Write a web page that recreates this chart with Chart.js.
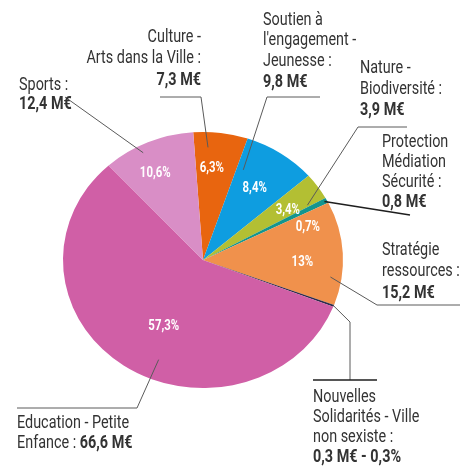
<!DOCTYPE html>
<html>
<head>
<meta charset="utf-8">
<script src="https://cdn.jsdelivr.net/npm/chart.js@4.4.1/dist/chart.umd.min.js"></script>
<style>
html,body{margin:0;padding:0;background:#fff;}
#wrap{position:relative;width:471px;height:466px;}
canvas{display:block;}
</style>
</head>
<body>
<div id="wrap"><canvas id="c" width="471" height="466"></canvas></div>
<script>
// ---- data ----
const categories = [
  'Culture - Arts dans la Ville',
  "Soutien à l'engagement - Jeunesse",
  'Nature - Biodiversité',
  'Protection Médiation Sécurité',
  'Stratégie ressources',
  'Nouvelles Solidarités - Ville non sexiste',
  'Education - Petite Enfance',
  'Sports'
];
const amounts = [7.3, 9.8, 3.9, 0.8, 15.2, 0.3, 66.6, 12.4];
const percentLabels = ['6,3%', '8,4%', '3,4%', '0,7%', '13%', '', '57,3%', '10,6%'];
const amountLabels = ['7,3 M€', '9,8 M€', '3,9 M€', '0,8 M€', '15,2 M€', '0,3 M€ - 0,3%', '66,6 M€', '12,4 M€'];
const nameLines = [
  ['Culture -', 'Arts dans la Ville :'],
  ['Soutien à', "l'engagement -", 'Jeunesse :'],
  ['Nature -', 'Biodiversité :'],
  ['Protection', 'Médiation', 'Sécurité :'],
  ['Stratégie', 'ressources :'],
  ['Nouvelles', 'Solidarités - Ville', 'non sexiste :'],
  ['Education - Petite', 'Enfance : '],
  ['Sports :']
];

// ---- style / layout ----
const colors = ['#e8650f', '#0e9de0', '#b3bf33', '#13958f', '#f0914c', '#2e2c4a', '#d05fa6', '#d98ec6'];
const Y_SCALE = 0.915;
const FONT = 'Roboto, "Liberation Sans", sans-serif';
const SX = 0.80;      // horizontal condensing of text
const SX_PCT = 0.76;
// percent label placement: [fraction along slice angle, fraction of radius]
const pctPlace = [[0.40,0.72],[0.49,0.67],[0.69,0.72],[4.2,0.79],[0.59,0.71],[0.5,0.5],[0.47,0.59],[0.41,0.76]];
// text blocks
const textPlace = [
  {x:201, y:37, align:'right', lh:21.5},
  {x:263, y:20, align:'left', lh:20.7},
  {x:360, y:68, align:'left', lh:21},
  {x:382, y:142, align:'left', lh:20.3},
  {x:382, y:250, align:'left', lh:21.5},
  {x:313, y:397, align:'left', lh:20.3},
  {x:17, y:423, align:'left', lh:20, inline:true},
  {x:19, y:85, align:'left', lh:19.5}
];
// leader lines: inner anchor [slice angle frac, radius frac], then outer points
const leaders = [
  {a:[0.28,0.88], pts:[[201,97],[160,97]]},
  {a:[0.12,0.76], pts:[[267,97],[320,97]]},
  {a:[0.93,0.86], pts:[[358,127],[407,127]]},
  {a:[0.5,0.98], pts:[[410,215]], dark:true},
  {a:[0.74,0.92], pts:[[377,305],[460,305]]},
  {a:[0.5,1.0], pts:[[350,322],[350,380]]},
  {a:[0.44,0.84], pts:[[137,408],[17,408]]},
  {a:[0.40,0.94], pts:[[65,97]]}
];
const extraLines = [{pts:[[313,380],[377,380]], dark:true}];

function arcPoint(arc, af, rf) {
  const ang = arc.startAngle + (arc.endAngle - arc.startAngle) * af;
  const r = arc.outerRadius * rf;
  return [arc.x + Math.cos(ang) * r, arc.y + Math.sin(ang) * r * Y_SCALE];
}
function drawText(ctx, txt, x, y, sx) {
  ctx.save();
  ctx.translate(x, y);
  ctx.scale(sx, 1);
  ctx.fillText(txt, 0, 0);
  ctx.restore();
}

const ellipsePlugin = {
  id: 'ellipse',
  beforeDatasetsDraw(chart) {
    const ctx = chart.ctx;
    const arc = chart.getDatasetMeta(0).data[0];
    ctx.save();
    ctx.translate(arc.x, arc.y);
    ctx.scale(1, Y_SCALE);
    ctx.translate(-arc.x, -arc.y);
  },
  afterDatasetsDraw(chart) {
    chart.ctx.restore();
  },
  afterDraw(chart) {
    const ctx = chart.ctx;
    const arcs = chart.getDatasetMeta(0).data;
    ctx.save();
    leaders.forEach((l, i) => {
      const p0 = arcPoint(arcs[i], l.a[0], l.a[1]);
      ctx.beginPath();
      ctx.moveTo(p0[0], p0[1]);
      l.pts.forEach(p => ctx.lineTo(p[0], p[1]));
      ctx.strokeStyle = l.dark ? '#1e1e1e' : '#5a5a5a';
      ctx.lineWidth = l.dark ? 1.6 : 1;
      ctx.stroke();
    });
    extraLines.forEach(l => {
      ctx.beginPath();
      ctx.moveTo(l.pts[0][0], l.pts[0][1]);
      l.pts.slice(1).forEach(p => ctx.lineTo(p[0], p[1]));
      ctx.strokeStyle = '#1e1e1e';
      ctx.lineWidth = 1.6;
      ctx.stroke();
    });
    ctx.fillStyle = '#ffffff';
    ctx.font = 'bold 15px ' + FONT;
    ctx.textAlign = 'center';
    ctx.textBaseline = 'middle';
    arcs.forEach((arc, i) => {
      if (!percentLabels[i]) return;
      const p = arcPoint(arc, pctPlace[i][0], pctPlace[i][1]);
      drawText(ctx, percentLabels[i], p[0], p[1], SX_PCT);
    });
    ctx.fillStyle = '#333333';
    textPlace.forEach((t, i) => {
      const lines = nameLines[i];
      ctx.textAlign = t.align;
      ctx.textBaseline = 'middle';
      lines.forEach((ln, k) => {
        const y = t.y + k * t.lh;
        ctx.font = '18px ' + FONT;
        if (t.inline && k === lines.length - 1) {
          ctx.textAlign = 'left';
          drawText(ctx, ln, t.x, y, SX);
          const w = ctx.measureText(ln).width * SX;
          ctx.font = 'bold 18px ' + FONT;
          drawText(ctx, amountLabels[i], t.x + w, y, SX);
        } else {
          drawText(ctx, ln, t.x, y, SX);
        }
      });
      if (!t.inline) {
        ctx.font = 'bold 18px ' + FONT;
        drawText(ctx, amountLabels[i], t.x, t.y + lines.length * t.lh, SX);
      }
    });
    ctx.restore();
  }
};

new Chart(document.getElementById('c'), {
  type: 'pie',
  data: {
    labels: categories,
    datasets: [{
      data: amounts,
      backgroundColor: colors,
      borderWidth: 0
    }]
  },
  options: {
    responsive: false,
    animation: false,
    rotation: -4,
    layout: { padding: { left: 63, right: 128, top: 120, bottom: 66 } },
    plugins: { legend: { display: false }, tooltip: { enabled: false } }
  },
  plugins: [ellipsePlugin]
});
</script>
</body>
</html>
